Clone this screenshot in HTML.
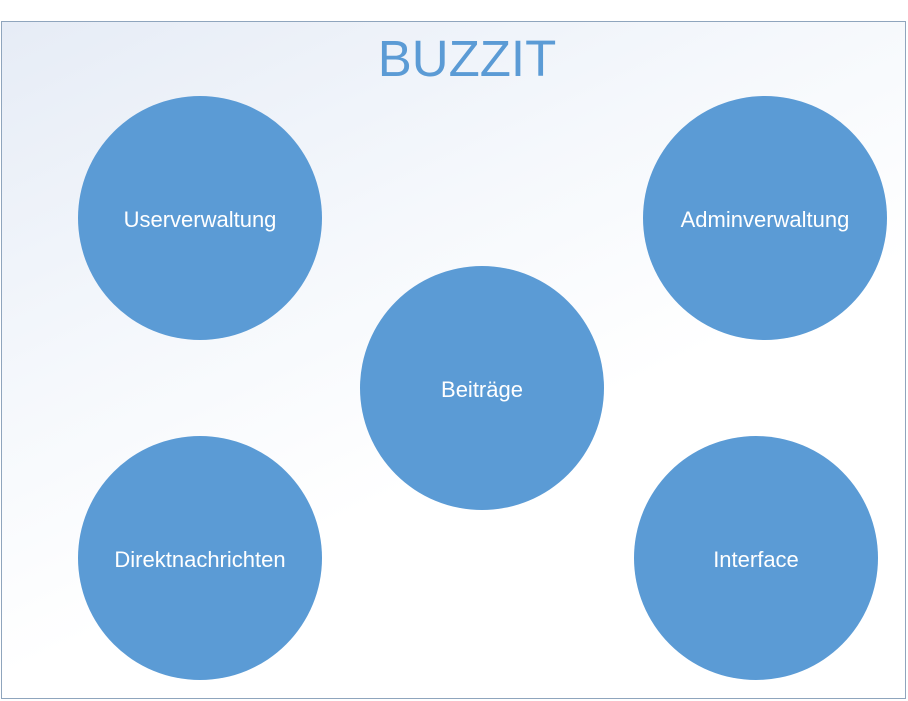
<!DOCTYPE html>
<html><head><style>
html,body{margin:0;padding:0;width:908px;height:701px;background:#fff;overflow:hidden;font-family:"Liberation Sans",sans-serif}
.frame{position:absolute;left:1px;top:21px;width:903px;height:676px;border:1px solid #8fa5bd;background:linear-gradient(155deg,#e6ecf6 0%,#f5f8fc 35%,#ffffff 60%)}
.c{position:absolute;width:244px;height:244px;border-radius:50%;background:#5b9bd5;color:#fff;font-size:22px;display:flex;align-items:center;justify-content:center;padding-top:4px;box-sizing:border-box}
.t{position:absolute;left:0;width:908px;top:29px;text-align:center;color:#5b9bd5;font-size:51px;padding-left:26px;box-sizing:border-box}
</style></head><body>
<div class="frame"></div>
<div class="t">BUZZIT</div>
<div class="c" style="left:78px;top:96px">Userverwaltung</div>
<div class="c" style="left:643px;top:96px">Adminverwaltung</div>
<div class="c" style="left:360px;top:266px">Beiträge</div>
<div class="c" style="left:78px;top:436px">Direktnachrichten</div>
<div class="c" style="left:634px;top:436px">Interface</div>
</body></html>
